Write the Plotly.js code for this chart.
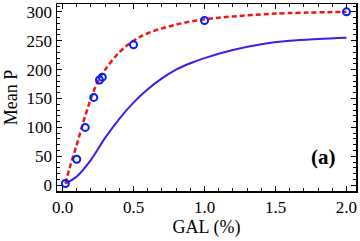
<!DOCTYPE html>
<html>
<head>
<meta charset="utf-8">
<script src="https://cdn.plot.ly/plotly-3.0.1.min.js"></script>
<style>html,body{margin:0;padding:0;background:#fff;}#chart{width:360px;height:241px;}</style>
</head>
<body>
<div id="chart"></div>
<script>
// Measured data points (open circles)
const dataX = [0.02, 0.1, 0.16, 0.22, 0.26, 0.28, 0.5, 1.0, 2.0];
const dataY = [3, 45, 100, 152, 182, 187, 243, 285, 300];

// Red dashed fit curve
const fitX = [0.02, 0.05, 0.1, 0.15, 0.2, 0.25, 0.3, 0.4, 0.5, 0.6, 0.8, 1.0, 1.2, 1.5, 2.0];
const fitY = [3, 30, 70, 112, 150, 180, 200, 230, 250, 263, 278, 287, 292, 297, 300];

// Blue solid model curve
const modelX = [0.02, 0.1, 0.2, 0.3, 0.4, 0.5, 0.6, 0.7, 0.8, 0.9, 1.0, 1.2, 1.4, 1.6, 1.8, 2.0];
const modelY = [3, 15, 44, 82, 115, 143, 166, 185, 200, 211, 220, 234, 244, 250, 253, 255];

const xTicks = [0.0, 0.5, 1.0, 1.5, 2.0];
const xTickText = ["0.0", "0.5", "1.0", "1.5", "2.0"];
const yTicks = [0, 50, 100, 150, 200, 250, 300];

const traces = [
  {x: modelX, y: modelY, mode: 'lines', line: {color: 'rgb(60,30,230)', width: 2, shape: 'spline', smoothing: 1}, hoverinfo: 'skip'},
  {x: fitX, y: fitY, mode: 'lines', line: {color: 'rgb(240,20,20)', width: 2.5, dash: '5px,3px', shape: 'spline', smoothing: 1}, hoverinfo: 'skip'},
  {x: dataX, y: dataY, mode: 'markers', marker: {symbol: 'circle-open', size: 7, color: 'rgb(0,30,255)', line: {width: 2, color: 'rgb(0,30,255)'}}}
];

const FAM = 'Liberation Serif';
const tickFont = {family: FAM, size: 17, color: '#000'};
const titleFont = {family: FAM, size: 18, color: '#000'};

const layout = {
  width: 360, height: 241,
  margin: {l: 57, r: 4, t: 4, b: 50},
  showlegend: false,
  paper_bgcolor: '#fff', plot_bgcolor: '#fff',
  font: tickFont,
  xaxis: {
    range: [-0.039, 2.067],
    tickvals: xTicks, ticktext: xTickText,
    ticks: 'inside', ticklen: 5, tickwidth: 1, tickcolor: '#000',
    minor: {dtick: 0.1, ticks: 'inside', ticklen: 3, tickcolor: '#000', showgrid: false},
    showline: true, linecolor: '#000', linewidth: 1.5, mirror: 'allticks',
    showgrid: false, zeroline: false,
    tickfont: tickFont,
    title: {text: 'GAL (%)', font: titleFont, standoff: 4}
  },
  yaxis: {
    range: [-10, 313.6],
    tickvals: yTicks,
    ticks: 'inside', ticklen: 5, tickwidth: 1, tickcolor: '#000',
    minor: {dtick: 10, ticks: 'inside', ticklen: 3, tickcolor: '#000', showgrid: false},
    showline: true, linecolor: '#000', linewidth: 1.5, mirror: 'allticks',
    showgrid: false, zeroline: false,
    tickfont: tickFont,
    title: {text: 'Mean P', font: titleFont, standoff: 4}
  },
  annotations: [{
    xref: 'paper', yref: 'paper', x: 0.89, y: 0.18, xanchor: 'center', yanchor: 'middle',
    text: '<b>(a)</b>', showarrow: false,
    font: {family: FAM, size: 21, color: '#000'}
  }]
};

Plotly.newPlot('chart', traces, layout, {staticPlot: true, displayModeBar: false});
</script>
</body>
</html>
